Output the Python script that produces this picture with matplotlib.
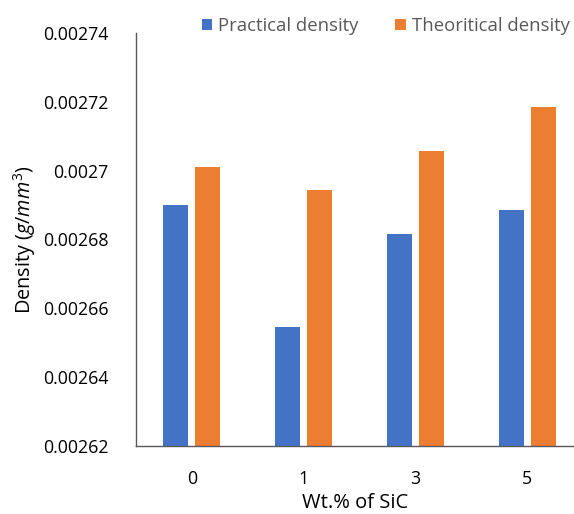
import matplotlib
matplotlib.use("Agg")
import matplotlib.pyplot as plt
import numpy as np

categories = ["0", "1", "3", "5"]
practical = [0.002690, 0.0026545, 0.0026817, 0.0026887]
theoretical = [0.002701, 0.0026943, 0.0027058, 0.0027185]
yticks = [0.00262, 0.00264, 0.00266, 0.00268, 0.0027, 0.00272, 0.00274]
ytick_labels = ["0.00262", "0.00264", "0.00266", "0.00268", "0.0027", "0.00272", "0.00274"]

plt.rcParams['font.family'] = ['Open Sans', 'DejaVu Sans']
plt.rcParams['mathtext.fontset'] = 'custom'
plt.rcParams['mathtext.it'] = 'Open Sans:italic'
plt.rcParams['mathtext.rm'] = 'Open Sans'

fig = plt.figure(figsize=(5.74, 5.14), dpi=100)
ax = fig.add_axes([0.237, 0.1323, 0.763, 0.8035])

x = np.arange(len(categories))
w = 0.224
off = 0.143
ax.bar(x - off, practical, w, color="#4472C4", label="Practical density")
ax.bar(x + off, theoretical, w, color="#ED7D31", label="Theoritical density")

ax.set_ylim(0.00262, 0.00274)
ax.set_xlim(-0.5, 3.418)
ax.set_yticks(yticks)
ax.set_yticklabels(ytick_labels)
ax.set_xticks(x)
ax.set_xticklabels(categories)
ax.tick_params(axis='both', length=0, labelsize=12.8, colors='black')
ax.tick_params(axis='y', pad=20)
ax.tick_params(axis='x', pad=17)

for s in ['top', 'right']:
    ax.spines[s].set_visible(False)
for s in ['left', 'bottom']:
    ax.spines[s].set_color('#595959')
    ax.spines[s].set_linewidth(1.0)

ax.set_xlabel("Wt.% of SiC", fontsize=14.5, labelpad=4)
ax.set_ylabel(r"Density ($\mathit{g/mm^3}$)", fontsize=14.3, labelpad=3)

leg = fig.legend(loc='center', bbox_to_anchor=(0.672, 0.950), ncol=2, frameon=False,
                 fontsize=13.3, handlelength=0.55, handleheight=0.55, handletextpad=0.35,
                 columnspacing=2.0)
for t in leg.get_texts():
    t.set_color('#595959')

fig.savefig("out.png", dpi=100)
